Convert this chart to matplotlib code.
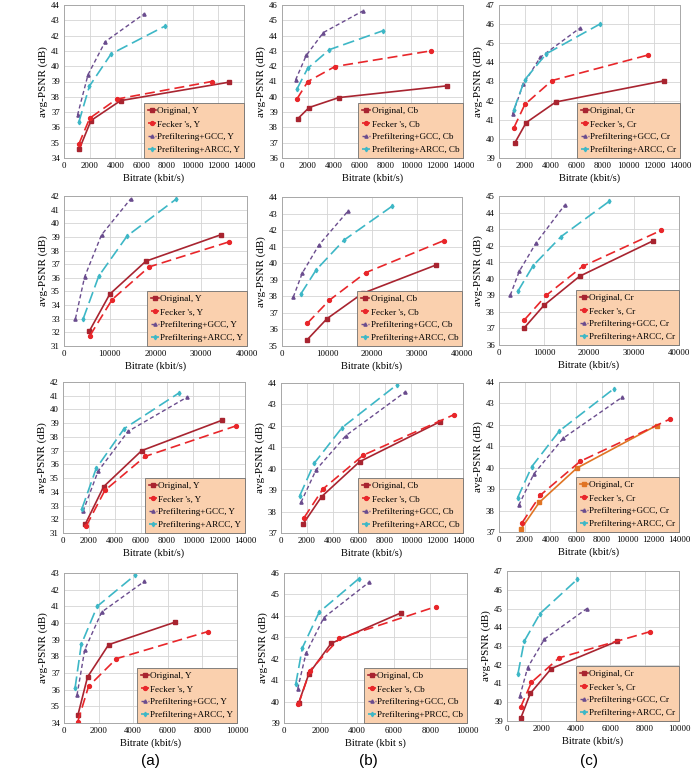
import matplotlib.pyplot as plt

# =========================================================
# Data
# =========================================================

components = ["Y", "Cb", "Cr"]

# row 1
r1_rate_orig = [1200, 2100, 4400, 12800]
r1_rate_fecker = [1150, 2000, 4100, 11500]
r1_rate_gcc = [1050, 1870, 3200, 6230]
r1_rate_arcc = [1150, 1980, 3660, 7850]
r1_psnr_orig = [[34.6, 36.45, 37.75, 38.95], [38.55, 39.3, 39.95, 40.72], [39.76, 40.85, 41.93, 43.04]]
r1_psnr_fecker = [[34.9, 36.6, 37.85, 39.0], [39.85, 41.0, 41.98, 43.0], [40.58, 41.8, 43.05, 44.38]]
r1_psnr_gcc = [[36.8, 39.45, 41.6, 43.42], [41.1, 42.7, 44.2, 45.6], [41.3, 42.85, 44.27, 45.78]]
r1_psnr_arcc = [[36.33, 38.7, 40.8, 42.62], [40.5, 41.85, 43.08, 44.33], [41.52, 43.08, 44.45, 46.02]]

# row 2
r2_rate_orig = [5500, 10000, 17900, 34300]
r2_rate_fecker = [5650, 10500, 18600, 36000]
r2_rate_gcc = [2500, 4500, 8200, 14600]
r2_rate_arcc = [4200, 7600, 13800, 24500]
r2_psnr_orig = [[32.07, 34.8, 37.22, 39.16], [35.35, 36.65, 38.18, 39.9], [37.0, 38.4, 40.15, 42.3]]
r2_psnr_fecker = [[31.75, 34.4, 36.8, 38.63], [36.38, 37.76, 39.43, 41.37], [37.52, 39.0, 40.75, 42.92]]
r2_psnr_gcc = [[33.0, 36.06, 39.15, 41.8], [37.95, 39.4, 41.1, 43.13], [39.0, 40.45, 42.15, 44.45]]
r2_psnr_arcc = [[33.0, 36.13, 39.07, 41.77], [38.15, 39.6, 41.4, 43.45], [39.25, 40.8, 42.55, 44.68]]

# row 3
r3_rate_orig = [1700, 3130, 6050, 12250]
r3_rate_fecker = [1780, 3220, 6320, 13300]
r3_rate_gcc = [1540, 2700, 5000, 9550]
r3_rate_arcc = [1450, 2550, 4700, 8920]
r3_psnr_orig = [[31.62, 34.38, 37.0, 39.22], [37.42, 38.7, 40.33, 42.2], [37.13, 38.38, 39.98, 41.97]]
r3_psnr_fecker = [[31.5, 34.1, 36.58, 38.8], [37.72, 39.05, 40.63, 42.52], [37.42, 38.72, 40.3, 42.27]]
r3_psnr_gcc = [[32.58, 35.5, 38.4, 40.9], [38.43, 39.95, 41.55, 43.58], [38.25, 39.7, 41.38, 43.28]]
r3_psnr_arcc = [[32.75, 35.7, 38.6, 41.2], [38.75, 40.25, 41.92, 43.92], [38.6, 40.05, 41.72, 43.68]]

# row 4
r4_rate_orig = [800, 1360, 2580, 6420]
r4_rate_fecker = [790, 1420, 3030, 8300]
r4_rate_gcc = [750, 1200, 2180, 4650]
r4_rate_arcc = [640, 1000, 1920, 4080]
r4_psnr_orig = [[34.46, 36.76, 38.7, 40.05], [39.93, 41.3, 42.72, 44.15], [39.15, 40.48, 41.8, 43.26]]
r4_psnr_fecker = [[34.06, 36.2, 37.86, 39.48], [39.87, 41.45, 42.95, 44.43], [39.73, 41.06, 42.37, 43.76]]
r4_psnr_gcc = [[35.66, 38.4, 40.66, 42.5], [40.6, 42.25, 43.92, 45.57], [40.33, 41.85, 43.37, 45.0]]
r4_psnr_arcc = [[36.1, 38.72, 41.0, 42.85], [40.8, 42.5, 44.17, 45.73], [41.53, 43.25, 44.73, 46.55]]

x_max = [14000, 40000, 14000, 10000]
x_step = [2000, 10000, 2000, 2000]
y_lims = [
    [(34, 44), (36, 46), (39, 47)],
    [(31, 42), (35, 44), (36, 45)],
    [(31, 42), (37, 44), (37, 44)],
    [(34, 43), (39, 46), (39, 47)],
]

# pixel boxes (left, top, right, bottom)
boxes = [
    [(64, 5, 244, 158), (282, 5, 463, 158), (499, 5, 680, 158)],
    [(64, 196, 247, 346), (282, 197, 462, 346), (499, 196, 679, 345)],
    [(63, 382, 245, 533), (281, 383, 463, 533), (499, 382, 679, 532)],
    [(64, 573, 237, 723), (284, 573, 467, 723), (507, 571, 679, 721)],
]

rows = [
    (r1_rate_orig, r1_rate_fecker, r1_rate_gcc, r1_rate_arcc,
     r1_psnr_orig, r1_psnr_fecker, r1_psnr_gcc, r1_psnr_arcc),
    (r2_rate_orig, r2_rate_fecker, r2_rate_gcc, r2_rate_arcc,
     r2_psnr_orig, r2_psnr_fecker, r2_psnr_gcc, r2_psnr_arcc),
    (r3_rate_orig, r3_rate_fecker, r3_rate_gcc, r3_rate_arcc,
     r3_psnr_orig, r3_psnr_fecker, r3_psnr_gcc, r3_psnr_arcc),
    (r4_rate_orig, r4_rate_fecker, r4_rate_gcc, r4_rate_arcc,
     r4_psnr_orig, r4_psnr_fecker, r4_psnr_gcc, r4_psnr_arcc),
]

# =========================================================
# Styles
# =========================================================

W, H = 699, 771
serif = ["Liberation Serif", "DejaVu Serif"]

c_orig = "#A82430"
c_fecker = "#E8262A"
c_gcc = "#6A4C8E"
c_arcc = "#3DB7C6"
legend_face = "#FAD0AE"

fig = plt.figure(figsize=(W / 100, H / 100), dpi=100)

for r, row in enumerate(rows):
    ro, rf, rg, ra, po, pf, pg, pa = row
    for c, comp in enumerate(components):
        l, t, rr, b = boxes[r][c]
        ax = fig.add_axes([l / W, 1 - b / H, (rr - l) / W, (b - t) / H])

        col_o = "#E07424" if (r == 2 and c == 2) else c_orig
        ax.plot(ro, po[c], "-", color=col_o, lw=1.2, marker="s", ms=2.8,
                label="Original, " + comp)
        ax.plot(rf, pf[c], color=c_fecker, lw=1.2, dashes=(6, 3), marker="o",
                ms=2.8, label="Fecker 's, " + comp)
        ax.plot(rg, pg[c], color=c_gcc, lw=1.0, dashes=(3, 2), marker="^",
                ms=2.3, label="Prefiltering+GCC, " + comp)
        arcc_name = "PRCC" if (r == 3 and c == 1) else "ARCC"
        ax.plot(ra, pa[c], color=c_arcc, lw=1.2, dashes=(7, 3), marker="d",
                ms=2.3, label="Prefiltering+" + arcc_name + ", " + comp)

        ax.set_xlim(0, x_max[r])
        ax.set_xticks(range(0, x_max[r] + 1, x_step[r]))
        y0, y1 = y_lims[r][c]
        ax.set_ylim(y0, y1)
        ax.set_yticks(range(y0, y1 + 1))

        ax.grid(True, color="#D4D4D4", lw=0.6)
        ax.set_axisbelow(True)
        for s in ax.spines.values():
            s.set_color("#A8A8A8")
            s.set_linewidth(0.7)
        ax.tick_params(length=0, pad=3, labelsize=6.3)
        for lab in ax.get_xticklabels() + ax.get_yticklabels():
            lab.set_family(serif)

        xl = "Bitrate (kbit s)" if (r == 3 and c == 1) else "Bitrate (kbit/s)"
        ax.set_xlabel(xl, family=serif, fontsize=7.5, labelpad=2)
        ax.set_ylabel("avg-PSNR (dB)", family=serif, fontsize=8, labelpad=2)

        leg = ax.legend(loc="lower right", borderaxespad=0, frameon=True,
                        fancybox=False, facecolor=legend_face,
                        edgecolor="#707070", framealpha=1,
                        prop={"family": serif, "size": 6.6},
                        handlelength=0.9, handletextpad=0.15,
                        labelspacing=0.5, borderpad=0.4)
        leg.get_frame().set_linewidth(0.6)

for x, s in [(150, "(a)"), (368, "(b)"), (589, "(c)")]:
    fig.text(x / W, 1 - 761 / H, s, ha="center", va="center",
             family="Liberation Sans", fontsize=11)

fig.savefig("out.png", dpi=100)
